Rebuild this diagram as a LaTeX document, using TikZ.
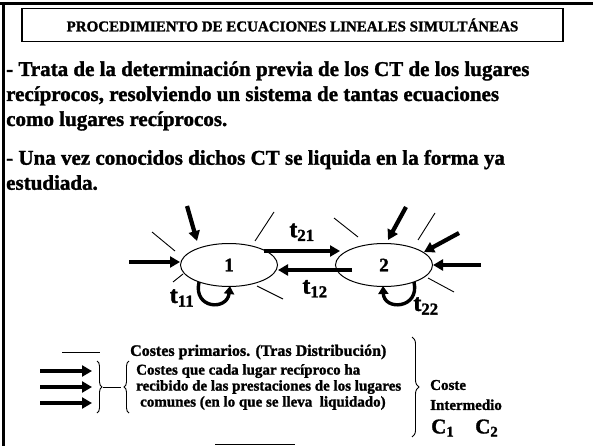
\documentclass[tikz,border=0pt]{standalone}
\usepackage{fontspec}
\setmainfont{Liberation Serif}[BoldFeatures={FakeBold=1.5}]
\usetikzlibrary{arrows.meta,positioning,calc,shapes.geometric,decorations.pathreplacing}

\begin{document}
\begin{tikzpicture}[x=1pt, y=1pt, font=\bfseries,
  place/.style={draw, ellipse, line width=1pt, minimum width=97pt, minimum height=43pt, inner sep=0pt, font=\fontsize{19}{19}\selectfont\bfseries},
  feed/.style={line width=4.2pt, -{Triangle[length=10pt,width=11pt]}},
  selfloop/.style={line width=3.4pt, -{Triangle[length=8pt,width=10pt]}},
  prim/.style={line width=0.9pt},
  curly/.style={line width=0.9pt, decorate, decoration={brace, amplitude=5pt}},
  lab/.style={inner sep=0pt, font=\fontsize{24}{24}\selectfont\bfseries},
  body/.style={anchor=west, align=left, inner sep=0pt, font=\fontsize{21}{25}\selectfont\bfseries},
  note/.style={anchor=west, align=left, inner sep=0pt, font=\fontsize{15}{16}\selectfont\bfseries}]
  \useasboundingbox (0,0) rectangle (593,-446);
  % frame and title
  \draw[line width=3pt] (0,-4) -- (593,-4);
  \draw[line width=3pt] (3,-4) -- (3,-446);
  \node[draw, line width=1.5pt, minimum width=541pt, minimum height=33pt, inner sep=0pt,
        font=\fontsize{15}{15}\selectfont\bfseries] (title) at (292.5,-25) {PROCEDIMIENTO DE ECUACIONES LINEALES SIMULTÁNEAS};
  \node[body] (intro) at (6,-96) {- Trata de la determinación previa de los CT de los lugares\\
     recíprocos, resolviendo un sistema de tantas ecuaciones\\ como lugares recíprocos.};
  \node[body] (known) at (6,-170) {- Una vez conocidos dichos CT se liquida en la forma ya\\ estudiada.};

  % the two reciprocal places
  \node[place] (e1) at (229,-265) {1};
  \node[place, right=57pt of e1] (e2) {2};
  \draw[feed] ([xshift=-14pt,yshift=14pt]e1.east) -- node[lab, above=8pt]{t\textsubscript{21}} ([xshift=5pt,yshift=14pt]e2.west);
  \draw[feed] ([xshift=17pt,yshift=-5pt]e2.west) -- node[lab, below=8pt]{t\textsubscript{12}} ([yshift=-5pt]e1.east);

  % primary costs (thin) and costs received (thick) at 1
  \draw[prim] ($(e1)+(-54,14)$) -- ++(-23,19);
  \draw[prim] ($(e1)+(26,24)$) -- ++(19,29);
  \draw[prim] ($(e1)+(-46,-9)$) -- ++(-10,-8);
  \draw[prim] ($(e1)+(28,-21)$) -- ++(26,-13);
  \draw[feed] ($(e1)+(-42,59)$) -- ($(e1)+(-32,24)$);
  \draw[feed] ([xshift=-51pt,yshift=3pt]e1.west) -- ([yshift=3pt]e1.west);
  \draw[selfloop] ($(e1)+(-30,-17)$) .. controls ($(e1)+(-36,-44)$) and ($(e1)+(-2,-46)$) .. ($(e1)+(1,-21)$);
  \node[lab] (t11) at (182,-298) {t\textsubscript{11}};

  % the same at 2
  \draw[prim] ($(e2)+(-26,28)$) -- ++(-24,19);
  \draw[prim] ($(e2)+(34,25)$) -- ++(17,27);
  \draw[prim] ($(e2)+(44,-13)$) -- ++(26,-14);
  \draw[feed] ($(e2)+(22,58)$) -- ($(e2)+(4,25)$);
  \draw[feed] ($(e2)+(75,32)$) -- ($(e2)+(40,13)$);
  \draw[feed] ([xshift=48pt]e2.east) -- (e2.east);
  \draw[selfloop] ($(e2)+(30,-17)$) .. controls ($(e2)+(36,-44)$) and ($(e2)+(0,-46)$) .. ($(e2)+(-1,-21)$);
  \node[lab] (t22) at (426,-306) {t\textsubscript{22}};

  % legend
  \draw[prim] (62,-352) -- (100,-352);
  \node[note, font=\fontsize{16}{16}\selectfont\bfseries] (primary) at (130,-352) {Costes primarios. (Tras Distribución)};
  \foreach \y in {371,387,403}
    \draw[feed] (40,-\y) -- (92,-\y);
  \draw[curly] (97,-361) -- (97,-413);
  \draw[prim] (103,-387) -- (121,-387);
  \draw[curly] (129,-413) -- (129,-361);
  \node[note] (received) at (136,-387) {Costes que cada lugar recíproco ha\\
     recibido de las prestaciones de los lugares\\ \hspace{4pt}comunes (en lo que se lleva\ \ liquidado)};
  \draw[curly, decoration={amplitude=7pt}] (412,-337) -- (412,-437);
  \node[note, font=\fontsize{15}{20}\selectfont\bfseries] (inter) at (430,-395) {Coste\\ Intermedio};
  \node[note, font=\fontsize{21}{21}\selectfont\bfseries] (costs) at (431,-428) {C\textsubscript{1}\quad C\textsubscript{2}};
  \draw[line width=0.8pt] (215,-444) -- (295,-444);
\end{tikzpicture}
\end{document}
